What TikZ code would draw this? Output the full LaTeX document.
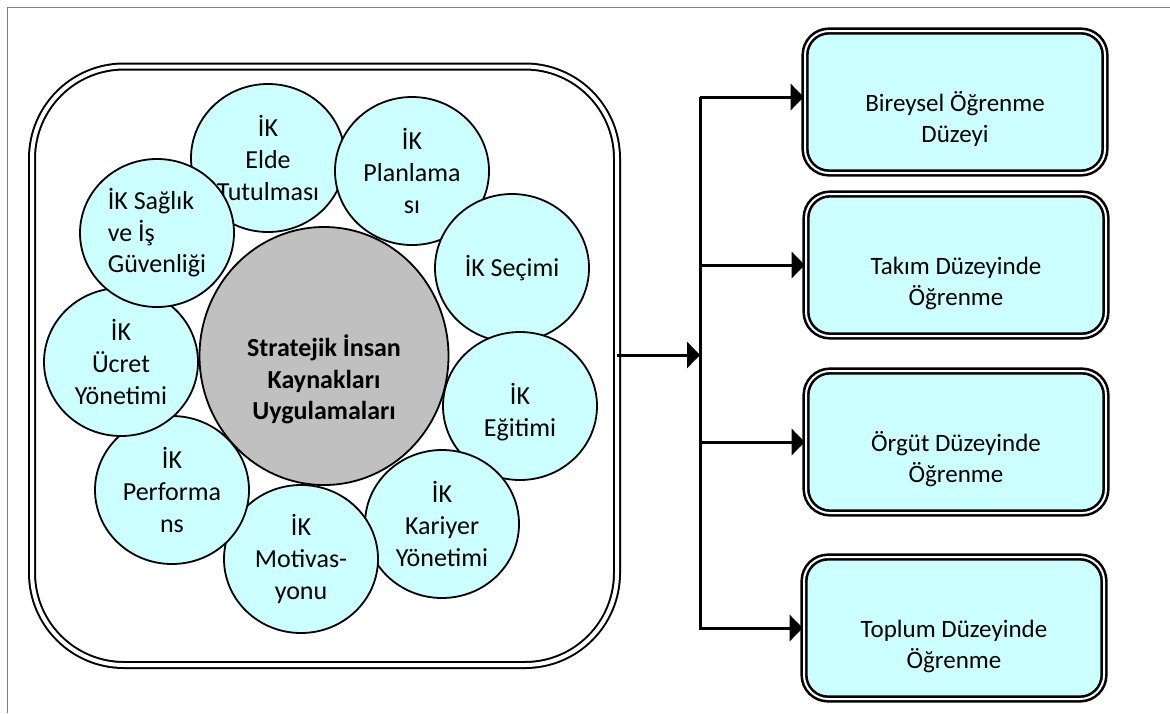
\documentclass[tikz,border=0pt]{standalone}
\usepackage{fontspec}
\setmainfont{Carlito}
\usetikzlibrary{arrows.meta,shapes.geometric}
\definecolor{ikcyan}{HTML}{CCFFFF}
\definecolor{hubgray}{HTML}{C0C0C0}
\definecolor{framegray}{HTML}{808080}
\newcommand{\dropped}[2]{\raisebox{-#1}[\height][\depth]{\begin{tabular}{@{}c@{}}#2\end{tabular}}}

\begin{document}
\begin{tikzpicture}[x=0.5pt,y=-0.5pt,
    every node/.style={font=\fontsize{13}{15.8}\selectfont},
    practice/.style={ellipse,draw,line width=0.9pt,fill=ikcyan,minimum width=77pt,minimum height=74pt,inner sep=0pt,align=center},
    hub/.style={ellipse,draw,line width=0.9pt,fill=hubgray,minimum width=124.5pt,minimum height=129pt,inner sep=0pt,font=\fontsize{13}{15.8}\selectfont\bfseries},
    tier/.style={draw,double,line width=1.3pt,double distance=1pt,rounded corners=12pt,fill=ikcyan,minimum width=150pt,minimum height=71pt,inner sep=0pt,font=\fontsize{12.5}{15.5}\selectfont},
    branch/.style={line width=1.5pt,-{Triangle[length=6.5pt,width=13pt]}}]
      \useasboundingbox (0,0) rectangle (1170,713);
      \draw[framegray,line width=0.5pt] (7,713) -- (7,7) -- (1170,7);
      \node[draw,double,line width=1pt,double distance=2pt,rounded corners=46pt,minimum width=292.5pt,minimum height=299.25pt,inner sep=0pt,outer sep=0pt] (group) at (324.5,365.75) {};
      \node[hub] (sihr) at (324,356) {\dropped{13pt}{Stratejik İnsan\\Kaynakları\\Uygulamaları}};
      \node[practice] (tutma) at (268,158) {İK\\Elde\\Tutulması};
      \node[practice] (plan) at (412,171) {İK\\Planlama\\sı};
      \node[practice] (secim) at (512,268) {İK Seçimi};
      \node[practice] (egitim) at (520,406) {\dropped{4pt}{İK\\Eğitimi}};
      \node[practice] (kariyer) at (442,524) {İK\\Kariyer\\Yönetimi};
      \node[practice] (motiv) at (301,559) {İK\\Motivas-\\yonu};
      \node[practice] (perf) at (172,490) {İK\\Performa\\ns};
      \node[practice] (ucret) at (121,362) {İK\\Ücret\\Yönetimi};
      \node[practice,align=left] (saglik) at (157,233) {İK Sağlık\\ve İş\\Güvenliği};
      \node[tier] (birey) at (955,102) {\dropped{9.5pt}{Bireysel Öğrenme\\Düzeyi}};
      \node[tier] (takim) at (956,265) {\dropped{9.5pt}{Takım Düzeyinde\\Öğrenme}};
      \node[tier] (orgut) at (956,442) {\dropped{9.5pt}{Örgüt Düzeyinde\\Öğrenme}};
      \node[tier] (toplum) at (954,628) {\dropped{9.5pt}{Toplum Düzeyinde\\Öğrenme}};
      \coordinate (split) at (700,355);
      \coordinate (trunktop) at (700,97);
      \coordinate (trunkend) at (700,630);
      \draw[line width=1.5pt] (trunktop) -- (trunkend);
      \draw[branch] (group.east |- split) -- (split);
      \draw[branch] (trunktop) -- (birey.west |- trunktop);
      \foreach \b in {takim,orgut,toplum}
        \draw[branch] (split |- \b.west) -- (\b.west);
\end{tikzpicture}
\end{document}
